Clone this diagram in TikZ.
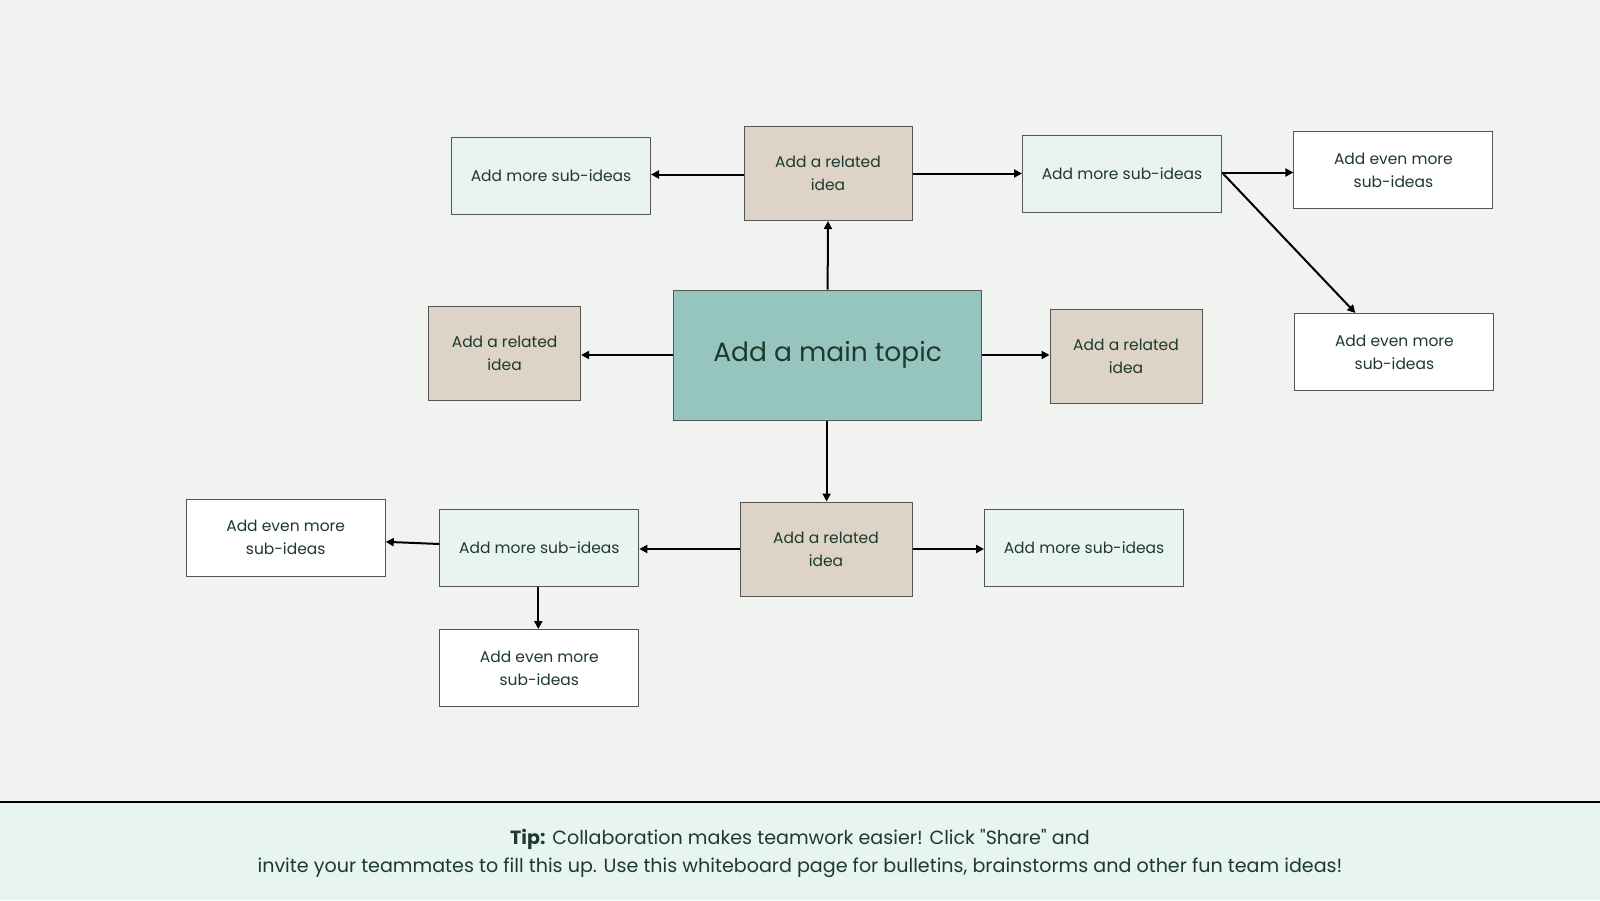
\documentclass[tikz,border=0pt]{standalone}
\usepackage{fontspec}
\setmainfont{Poppins}[Ligatures=TeXOff]
\usetikzlibrary{arrows.meta}
\definecolor{bgc}{HTML}{F0F3F0}
\definecolor{footc}{HTML}{E7F4EF}
\definecolor{subc}{HTML}{E9F4F0}
\definecolor{relc}{HTML}{DDD3C7}
\definecolor{mainc}{HTML}{96C5BF}
\definecolor{txtc}{HTML}{1D3A2C}
\definecolor{bordc}{HTML}{555555}
\tikzset{
  box/.style={draw=bordc, line width=1pt, inner sep=0pt, align=center, text=txtc,
    font=\fontsize{15.5}{23}\selectfont},
  subbox/.style={box, fill=subc, minimum width=199pt, minimum height=77pt},
  evenbox/.style={box, fill=white, minimum width=199pt, minimum height=77pt},
  relbox/.style={box, fill=relc, minimum height=94pt},
  conn/.style={line width=2pt, draw=black, -{Triangle[length=8pt,width=8pt]}}
}
\begin{document}
\begin{tikzpicture}[x=1pt,y=-1pt]
\fill[bgc] (0,0) rectangle (1600,900);
\useasboundingbox (0,0) rectangle (1600,900);
\fill[footc] (0,802) rectangle (1600,900);
\draw[line width=1.5pt] (0,802) -- (1600,802);

\node[box, fill=mainc, minimum width=308pt, minimum height=130pt,
  font=\fontsize{26.5}{30}\selectfont] (main) at (827.6,355) {Add a main topic};

\node[relbox, minimum width=168pt] (rtop) at (828,173.5) {Add a related\\idea};
\node[relbox, minimum width=152pt] (rleft) at (504.6,353) {Add a related\\idea};
\node[relbox, minimum width=152pt] (rright) at (1126,356) {Add a related\\idea};
\node[relbox, minimum width=172pt] (rbot) at (826,549) {Add a related\\idea};

\node[subbox] (stl) at (551,176) {Add more sub-ideas};
\node[subbox] (str) at (1122,173.5) {Add more sub-ideas};
\node[subbox] (sbr) at (1084,548) {Add more sub-ideas};
\node[subbox] (sbl) at (539.3,548) {Add more sub-ideas};

\node[evenbox] (e1) at (1393.4,170.4) {Add even more\\sub-ideas};
\node[evenbox] (e2) at (1394.4,352) {Add even more\\sub-ideas};
\node[evenbox] (e3) at (285.7,537.8) {Add even more\\sub-ideas};
\node[evenbox] (e4) at (539.3,668) {Add even more\\sub-ideas};

\coordinate (strout) at ([yshift=1pt]str.east);

\draw[conn] (main.north) -- (rtop.south);
\draw[conn] (main.west) -- (main.west -| rleft.east);
\draw[conn] (main.east) -- (main.east -| rright.west);
\draw[conn] ([xshift=-1pt]main.south) -- ([xshift=-1pt]main.south |- rbot.north);
\draw[conn] ([yshift=-1pt]rtop.west) -- ([yshift=-1pt]rtop.west -| stl.east);
\draw[conn] (rtop.east) -- (rtop.east -| str.west);
\draw[conn] (strout) -- (strout -| e1.west);
\draw[conn] (strout) -- ([xshift=-39pt]e2.north);
\draw[conn] (rbot.west) -- (rbot.west -| sbl.east);
\draw[conn] (rbot.east) -- (rbot.east -| sbr.west);
\draw[conn] ([yshift=4pt]sbl.west) -- ([yshift=-4pt]e3.east);
\draw[conn] ([xshift=-1pt]sbl.south) -- ([xshift=-1pt]e4.north);

\node[text=txtc, align=center, font=\fontsize{19.1}{28}\selectfont] (tip) at (800,853)
  {\textbf{Tip:} Collaboration makes teamwork easier! Click "Share" and\\
   invite your teammates to fill this up. Use this whiteboard page for bulletins, brainstorms and other fun team ideas!};
\end{tikzpicture}
\end{document}
